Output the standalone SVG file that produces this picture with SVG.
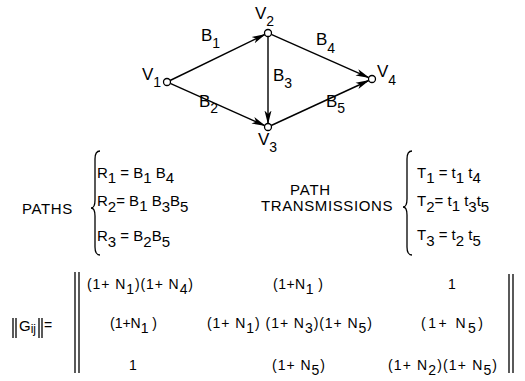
<svg xmlns="http://www.w3.org/2000/svg" width="525" height="381" viewBox="0 0 525 381">
<style>
text{font-family:"Liberation Sans",Arial,sans-serif;fill:#000}
.lbl{font-size:17px}
.eq{font-size:15px}
.mx{font-size:14px}
.edge{stroke:#000;stroke-width:1.4;fill:none;marker-end:url(#ah)}
.node{fill:#fff;stroke:#000;stroke-width:1.3}
.br{fill:none;stroke:#000;stroke-width:1.3}
.bar{stroke:#000;stroke-width:1.3}
</style>
<defs>
<marker id="ah" markerWidth="14" markerHeight="9" refX="13" refY="4.5" orient="auto" markerUnits="userSpaceOnUse"><path d="M0,1 L14,4.5 L0,8 L3.5,4.5 Z" fill="#000"/></marker>
</defs>
<g id="connectors">
<line class="edge" x1="170.1" y1="80.5" x2="264.9" y2="34.5"/>
<line class="edge" x1="170.2" y1="83.4" x2="264.8" y2="125.6"/>
<line class="edge" x1="268" y1="36.5" x2="268" y2="123.5"/>
<line class="edge" x1="271.2" y1="34.4" x2="368.8" y2="77.6"/>
<line class="edge" x1="271.2" y1="125.5" x2="368.8" y2="80.5"/>
<text class="lbl" x="201" y="41">B<tspan dy="7" font-size="14">1</tspan></text>
<text class="lbl" x="199" y="107">B<tspan dy="6" font-size="14">2</tspan></text>
<text class="lbl" x="273" y="81">B<tspan dy="7" font-size="14">3</tspan></text>
<text class="lbl" x="316" y="45">B<tspan dy="8" font-size="14">4</tspan></text>
<text class="lbl" x="326" y="107">B<tspan dy="6" font-size="14">5</tspan></text>
</g>
<g id="v1"><circle class="node" cx="167" cy="82" r="3.5"/><text class="lbl" x="142" y="80">V<tspan dy="7" font-size="14">1</tspan></text></g>
<g id="v2"><circle class="node" cx="268" cy="33" r="3.5"/><text class="lbl" x="255" y="19">V<tspan dy="7" font-size="14">2</tspan></text></g>
<g id="v3"><circle class="node" cx="268" cy="127" r="3.5"/><text class="lbl" x="258" y="145">V<tspan dy="7" font-size="14">3</tspan></text></g>
<g id="v4"><circle class="node" cx="372" cy="79" r="3.5"/><text class="lbl" x="377" y="77">V<tspan dy="8" font-size="14">4</tspan></text></g>
<g id="paths">
<text class="eq" x="22" y="214" font-size="14" letter-spacing="0.6">PATHS</text>
<path class="br" d="M100,151 Q95,151 95,159 L95,200 Q95,208 91,208 Q95,208 95,216 L95,247 Q95,255 100,255"/>
<text class="eq" x="97" y="178">R<tspan dy="5">1</tspan><tspan dy="-5"> = B</tspan><tspan dy="5">1</tspan><tspan dy="-5"> B</tspan><tspan dy="5">4</tspan></text>
<text class="eq" x="97" y="206">R<tspan dy="6">2</tspan><tspan dy="-6">= B</tspan><tspan dy="5">1</tspan><tspan dy="-5"> B</tspan><tspan dy="6">3</tspan><tspan dy="-6">B</tspan><tspan dy="6">5</tspan></text>
<text class="eq" x="97" y="241">R<tspan dy="6">3</tspan><tspan dy="-6"> = B</tspan><tspan dy="6">2</tspan><tspan dy="-6">B</tspan><tspan dy="6">5</tspan></text>
</g>
<g id="transmissions">
<text class="eq" x="290" y="195" font-size="13" letter-spacing="0.8">PATH</text>
<text class="eq" x="261" y="211" font-size="13" letter-spacing="0.6">TRANSMISSIONS</text>
<path class="br" d="M412,151 Q407,151 407,159 L407,199 Q407,207 403,207 Q407,207 407,215 L407,247 Q407,255 412,255"/>
<text class="eq" x="417" y="178">T<tspan dy="5">1</tspan><tspan dy="-5"> = t</tspan><tspan dy="5">1</tspan><tspan dy="-5"> t</tspan><tspan dy="5">4</tspan></text>
<text class="eq" x="417" y="206">T<tspan dy="6">2</tspan><tspan dy="-6">= t</tspan><tspan dy="5">1</tspan><tspan dy="-5"> t</tspan><tspan dy="6">3</tspan><tspan dy="-6">t</tspan><tspan dy="6">5</tspan></text>
<text class="eq" x="417" y="240">T<tspan dy="6">3</tspan><tspan dy="-6"> = t</tspan><tspan dy="6">2</tspan><tspan dy="-6"> t</tspan><tspan dy="6">5</tspan></text>
</g>
<g id="matrix">
<line class="bar" x1="13" y1="318" x2="13" y2="338"/><line class="bar" x1="16" y1="318" x2="16" y2="338"/>
<text class="eq" x="19" y="331" font-size="16">G<tspan font-size="12" dy="2">ij</tspan></text>
<line class="bar" x1="39" y1="318" x2="39" y2="338"/><line class="bar" x1="42" y1="318" x2="42" y2="338"/>
<text class="mx" x="44" y="330">=</text>
<line class="bar" x1="75" y1="272" x2="75" y2="373"/><line class="bar" x1="79" y1="272" x2="79" y2="373"/>
<line class="bar" x1="509" y1="274" x2="509" y2="373"/><line class="bar" x1="513" y1="274" x2="513" y2="373"/>
<text class="mx" x="87" y="289" textLength="106" lengthAdjust="spacing">(1+ N<tspan dy="5">1</tspan><tspan dy="-5">)(1+ N</tspan><tspan dy="5">4</tspan><tspan dy="-5">)</tspan></text>
<text class="mx" x="273" y="289" textLength="50" lengthAdjust="spacing">(1+N<tspan dy="5">1</tspan><tspan dy="-5"> )</tspan></text>
<text class="mx" x="452" y="289" text-anchor="middle">1</text>
<text class="mx" x="110" y="328" textLength="47" lengthAdjust="spacing">(1+N<tspan dy="5">1</tspan><tspan dy="-5"> )</tspan></text>
<text class="mx" x="207" y="328" textLength="165" lengthAdjust="spacing">(1+ N<tspan dy="5">1</tspan><tspan dy="-5">) (1+ N</tspan><tspan dy="5">3</tspan><tspan dy="-5">)(1+ N</tspan><tspan dy="5">5</tspan><tspan dy="-5">)</tspan></text>
<text class="mx" x="421" y="328" textLength="62" lengthAdjust="spacing">(1+ N<tspan dy="5">5</tspan><tspan dy="-5">)</tspan></text>
<text class="mx" x="133" y="370" text-anchor="middle">1</text>
<text class="mx" x="272" y="370" textLength="53" lengthAdjust="spacing">(1+ N<tspan dy="5">5</tspan><tspan dy="-5">)</tspan></text>
<text class="mx" x="388" y="370" textLength="109" lengthAdjust="spacing">(1+ N<tspan dy="5">2</tspan><tspan dy="-5">)(1+ N</tspan><tspan dy="5">5</tspan><tspan dy="-5">)</tspan></text>
</g>
</svg>
